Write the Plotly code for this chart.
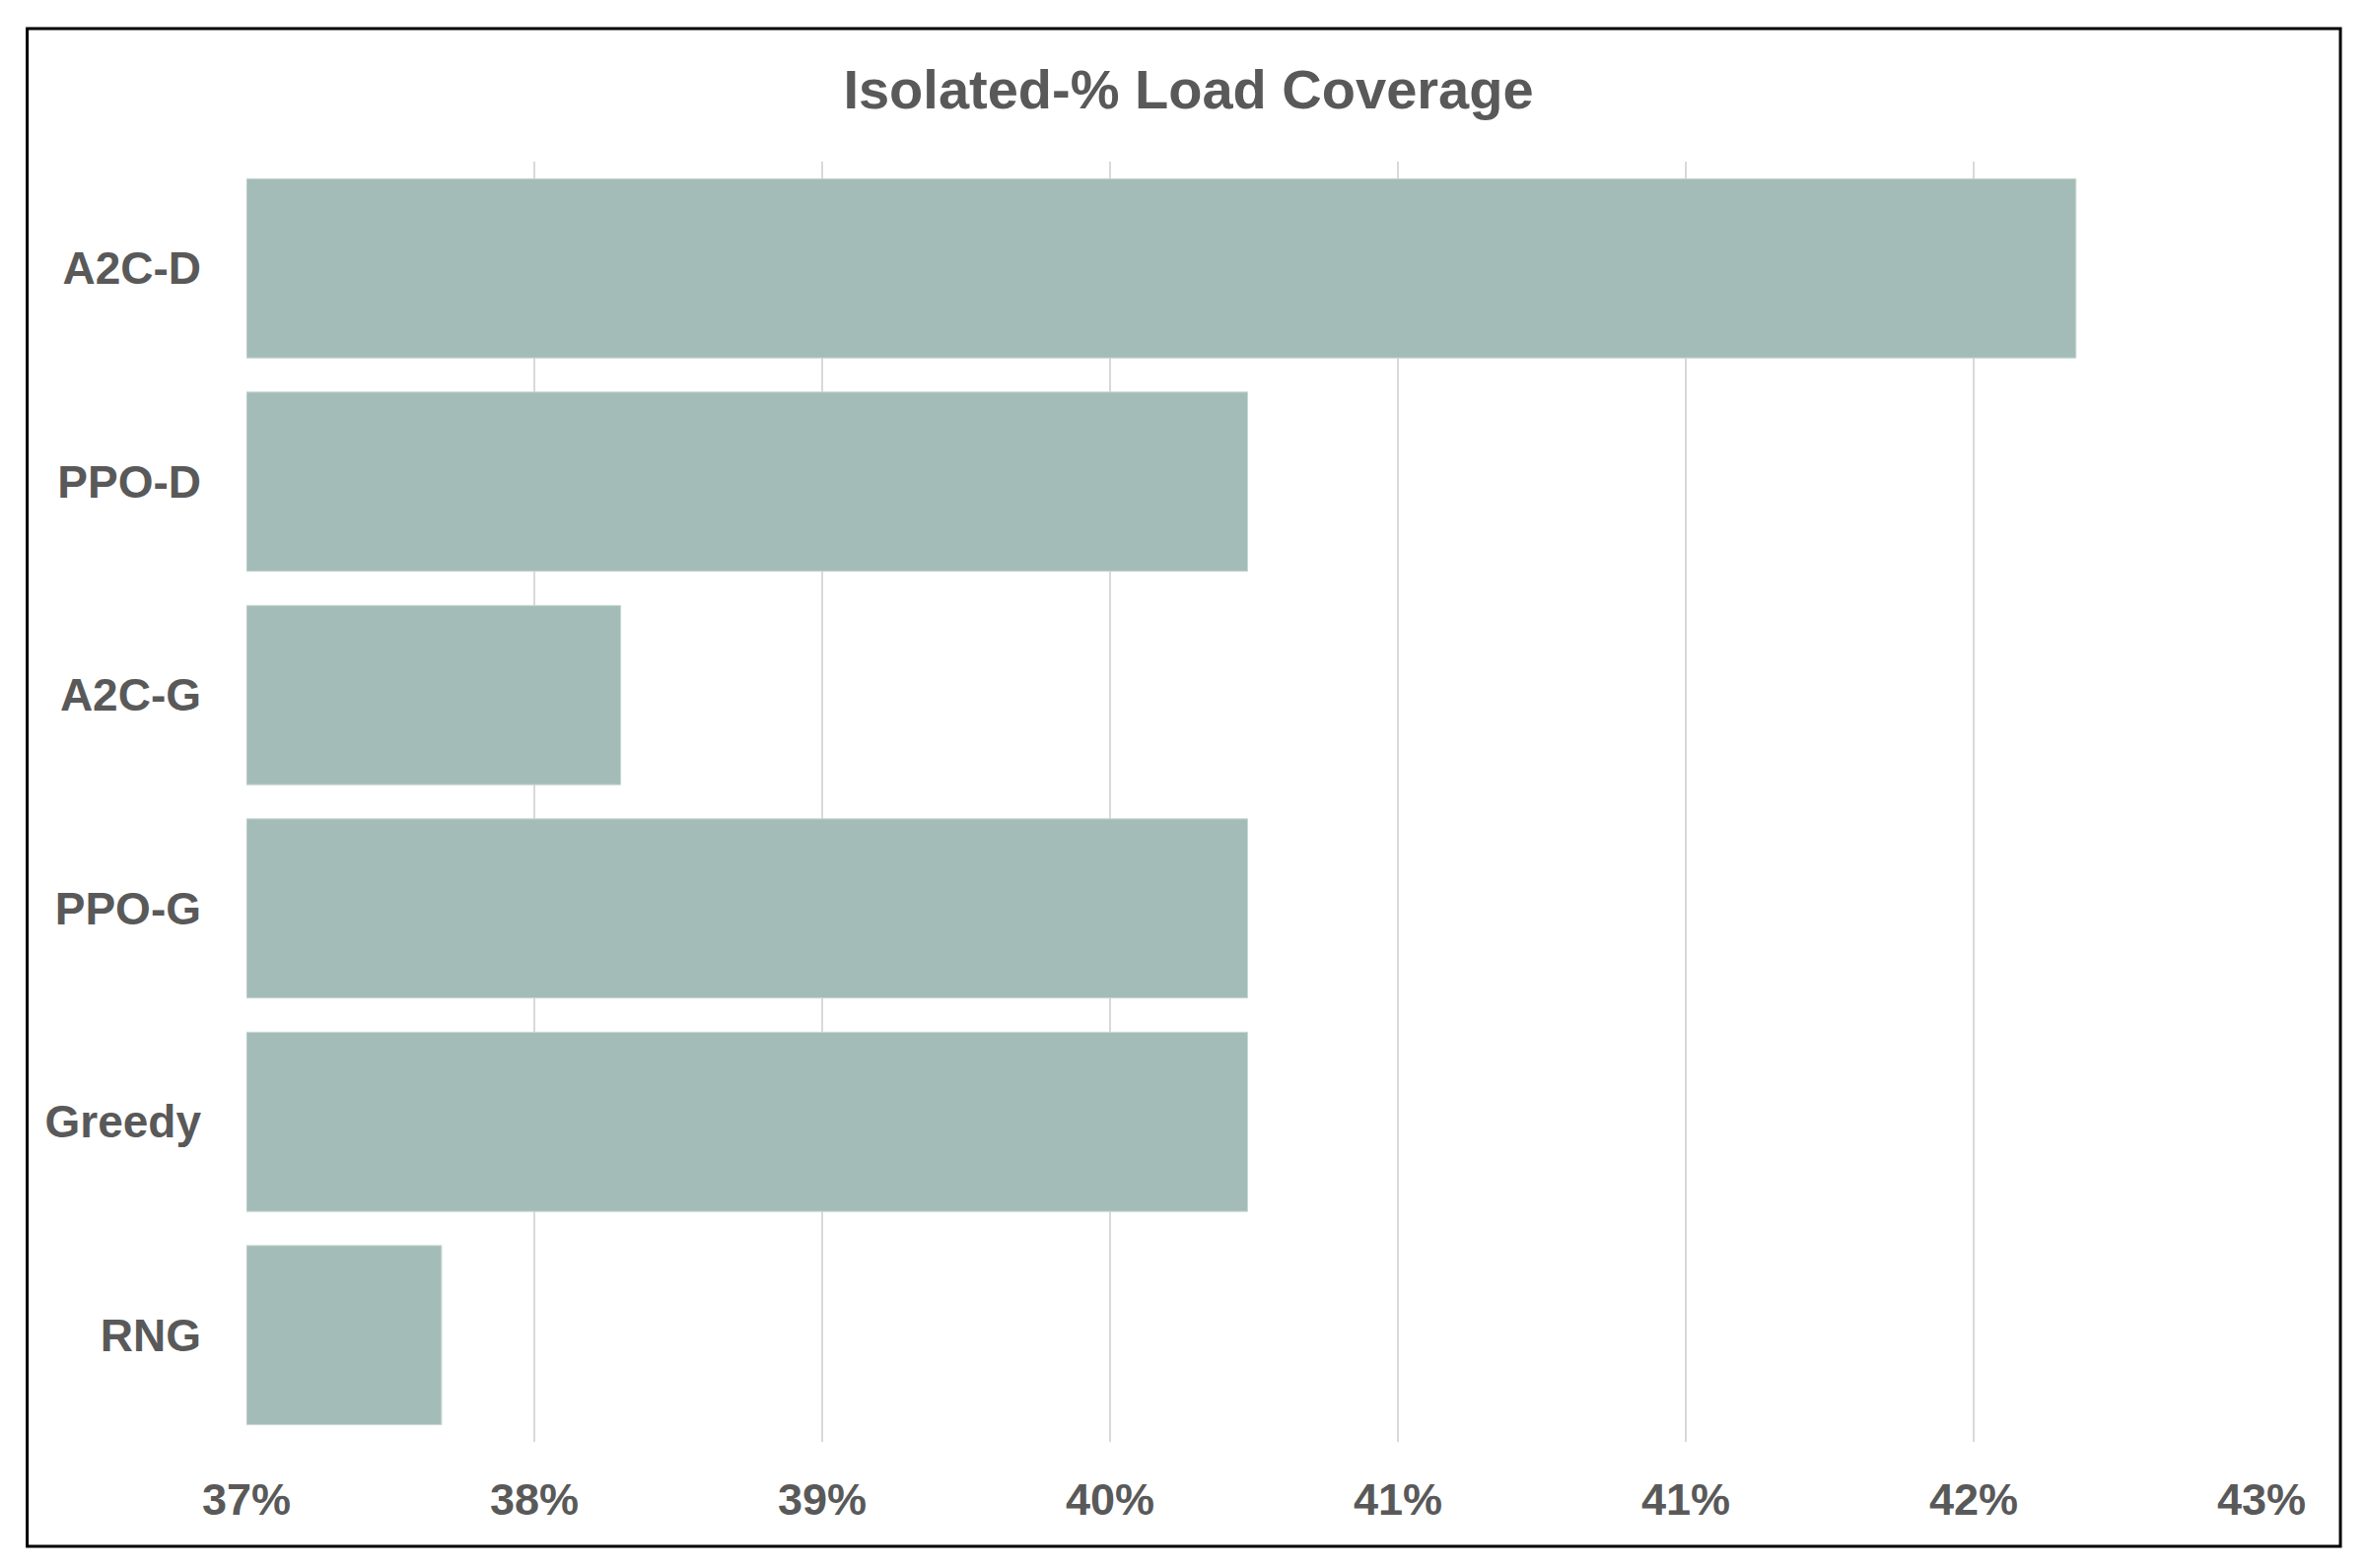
import plotly.graph_objects as go

# ---- data ----
categories = ["A2C-D", "PPO-D", "A2C-G", "PPO-G", "Greedy", "RNG"]
coverage = [0.4267, 0.4008, 0.3812, 0.4008, 0.4008, 0.3756]
tick_values = [0.3695, 0.3785, 0.3875, 0.3965, 0.4055, 0.4145, 0.4235, 0.4325]
tick_labels = ["37%", "38%", "39%", "40%", "41%", "41%", "42%", "43%"]
title_text = "Isolated-% Load Coverage"

# page body has an 8px margin: shift everything by -8
OFF = 8
W, H = 2403 - OFF, 1591 - OFF
ML, MR, MT, MB = 250 - OFF, 109, 164 - OFF, 128
FONT = "Liberation Sans Narrow, Arial Narrow, Liberation Sans, Arial, sans-serif"
TXT = "#595959"

base = tick_values[0]
fig = go.Figure(go.Bar(
    y=categories, x=[v - base for v in coverage], base=base, orientation="h",
    marker=dict(color="#A4BCB7", line=dict(color="#C9D8D4", width=1)),
))

fig.update_layout(
    width=W, height=H,
    margin=dict(l=ML, r=MR, t=MT, b=MB),
    paper_bgcolor="white", plot_bgcolor="white",
    bargap=0.16,
    showlegend=False,
    title=dict(text="<b>" + title_text + "</b>", x=0.5, xanchor="center",
               y=1 - (90 - OFF) / H, yanchor="middle", yref="container",
               font=dict(family=FONT, size=56, color=TXT)),
    xaxis=dict(range=[tick_values[0], tick_values[-1]],
               tickvals=tick_values, ticktext=["<b>%s</b>" % t for t in tick_labels],
               showgrid=True, gridcolor="#D9D9D9", gridwidth=2,
               zeroline=False, showline=False, ticks="",
               tickfont=dict(family=FONT, size=45, color=TXT),
               ticklabelstandoff=28),
    yaxis=dict(autorange="reversed", showgrid=False, showline=False, ticks="",
               tickfont=dict(family=FONT, size=46, color=TXT),
               ticktext=["<b>%s</b>" % c for c in categories], tickvals=categories,
               ticklabelstandoff=45),
)

pw = W - ML - MR
ph = H - MT - MB
x0 = (27.6 - OFF - ML) / pw
x1 = (2374 - OFF - ML) / pw
y1 = 1 - (29 - OFF - MT) / ph
y0 = 1 - (1569 - OFF - MT) / ph
fig.add_shape(type="rect", xref="paper", yref="paper", x0=x0, x1=x1, y0=y0, y1=y1,
              line=dict(color="black", width=3), fillcolor="rgba(0,0,0,0)", layer="above")

fig.write_html("out.html")
